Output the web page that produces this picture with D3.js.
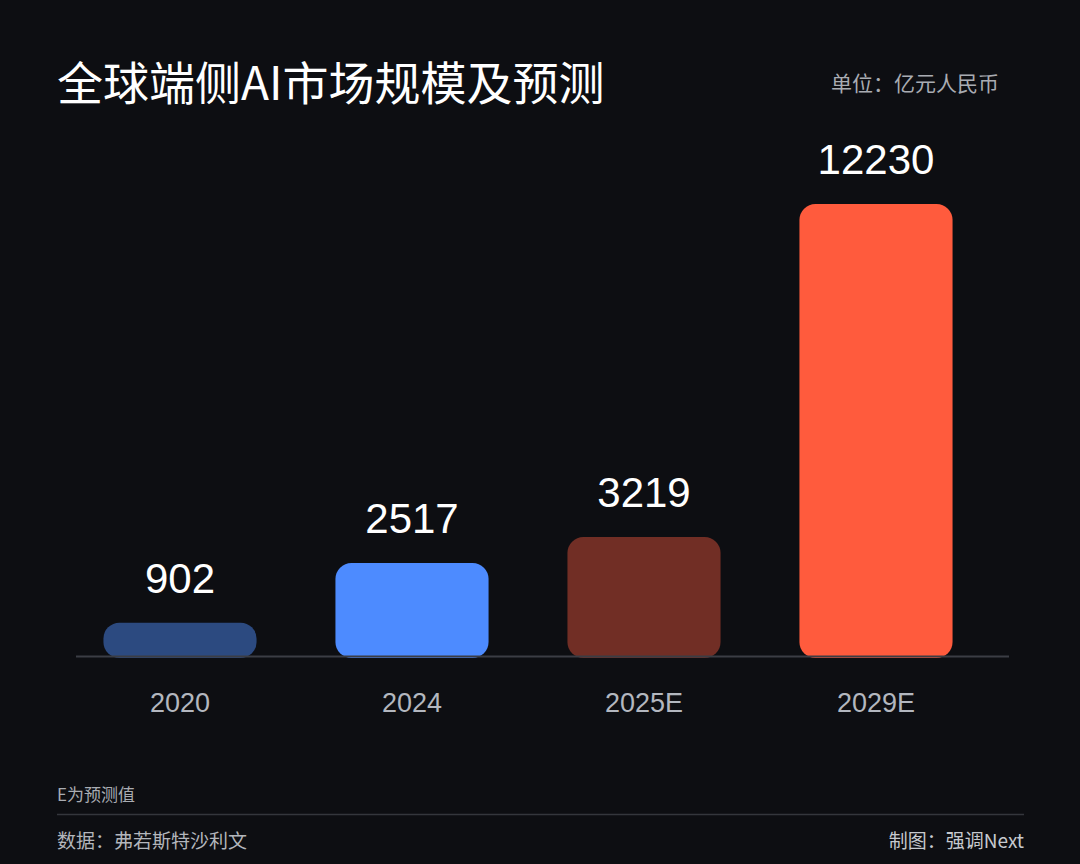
<!DOCTYPE html>
<html>
<head>
<meta charset="utf-8">
<script src="https://cdn.jsdelivr.net/npm/d3@7"></script>
<style>
  html, body { margin: 0; padding: 0; background: #0d0e12; }
  svg { display: block; }
  text { font-family: "Liberation Sans", "Noto Sans CJK SC", sans-serif; }
</style>
</head>
<body>
<svg></svg>
<script>
// data
const categories = ["2020", "2024", "2025E", "2029E"];
const values = [902, 2517, 3219, 12230];
const colors = ["#2c4a80", "#4d8bff", "#712e25", "#ff5b3d"];

const width = 1080, height = 864;
const baseY = 656;

const svg = d3.select("svg").attr("width", width).attr("height", height);

svg.append("rect").attr("width", width).attr("height", height).attr("fill", "#0d0e12");

const x = d3.scaleBand().domain(categories).range([64, 992]).paddingInner(0.34).paddingOuter(0.17);
const y = d3.scaleLinear().domain([0, 12230]).range([baseY, 204]);

// title + unit
svg.append("text").text("全球端侧AI市场规模及预测")
  .attr("x", 57).attr("y", 100)
  .style("font-size", "46px").style("fill", "#ffffff")
  .style("font-family", "'Noto Sans CJK SC', sans-serif");
svg.append("text").text("单位：亿元人民币")
  .attr("x", 999).attr("y", 91).attr("text-anchor", "end")
  .style("font-size", "21px").style("fill", "#a9acb2")
  .style("font-family", "'Noto Sans CJK SC', sans-serif");

// bars
svg.selectAll("rect.bar")
  .data(values)
  .enter()
  .append("rect")
  .attr("class", "bar")
  .attr("x", (d, i) => x(categories[i]))
  .attr("y", d => y(d))
  .attr("width", x.bandwidth())
  .attr("height", d => baseY - y(d) + 2)
  .attr("rx", 16).attr("ry", 16)
  .style("fill", (d, i) => colors[i]);

// baseline
svg.append("line")
  .attr("x1", 76).attr("x2", 1009)
  .attr("y1", baseY + 0.5).attr("y2", baseY + 0.5)
  .style("stroke", "#3b3d44").style("stroke-width", 2);

// value labels
svg.selectAll("text.val")
  .data(values)
  .enter()
  .append("text")
  .attr("class", "val")
  .text(d => d)
  .attr("x", (d, i) => x(categories[i]) + x.bandwidth() / 2)
  .attr("y", d => y(d) - 30)
  .attr("text-anchor", "middle")
  .style("font-size", "42px")
  .style("fill", "#ffffff");

// category axis
const xAxis = d3.axisBottom(x).tickSize(0).tickPadding(0);
const gx = svg.append("g").attr("transform", `translate(0, ${baseY})`).call(xAxis);
gx.select(".domain").remove();
gx.selectAll("text")
  .attr("y", 56).attr("dy", null)
  .style("font-size", "27px")
  .style("fill", "#b3b7bf")
  .style("font-family", "'Liberation Sans', sans-serif");

// footer
svg.append("text").text("E为预测值")
  .attr("x", 57).attr("y", 801)
  .style("font-size", "17px").style("fill", "#a9acb2")
  .style("font-family", "'Noto Sans CJK SC', sans-serif");
svg.append("line")
  .attr("x1", 57).attr("x2", 1024).attr("y1", 814.5).attr("y2", 814.5)
  .style("stroke", "#34363c").style("stroke-width", 1.5);
svg.append("text").text("数据：弗若斯特沙利文")
  .attr("x", 57).attr("y", 848)
  .style("font-size", "19px").style("fill", "#b3b6bc")
  .style("font-family", "'Noto Sans CJK SC', sans-serif");
svg.append("text").text("制图：强调Next")
  .attr("x", 1024).attr("y", 848).attr("text-anchor", "end")
  .style("font-size", "19px").style("fill", "#c6c9ce")
  .style("font-family", "'Noto Sans CJK SC', sans-serif");
</script>
</body>
</html>
